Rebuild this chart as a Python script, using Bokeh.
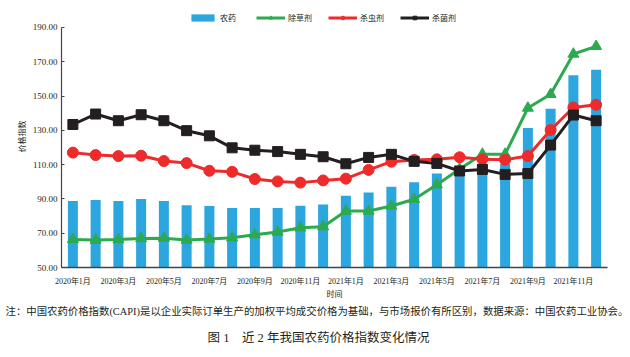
from bokeh.plotting import figure
from bokeh.models import (Range1d, Legend, LegendItem, Title, FixedTicker,
                          NumeralTickFormatter)
from bokeh.embed import file_html
from bokeh.resources import INLINE

months = ["2020年1月", "2020年2月", "2020年3月", "2020年4月", "2020年5月", "2020年6月",
          "2020年7月", "2020年8月", "2020年9月", "2020年10月", "2020年11月", "2020年12月",
          "2021年1月", "2021年2月", "2021年3月", "2021年4月", "2021年5月", "2021年6月",
          "2021年7月", "2021年8月", "2021年9月", "2021年10月", "2021年11月", "2021年12月"]

pesticide = [88.8, 89.4, 88.8, 90.0, 88.8, 86.3, 85.9, 84.7, 84.7, 84.7, 86.0, 86.8,
             91.8, 93.7, 97.1, 99.7, 104.8, 106.4, 110.5, 110.5, 131.3, 142.6, 162.1, 165.3]
herbicide = [66.4, 66.0, 66.3, 66.9, 67.1, 66.0, 66.6, 67.3, 69.1, 70.7, 73.2, 73.8,
             82.9, 82.9, 85.9, 89.8, 98.3, 107.5, 116.1, 116.1, 143.0, 151.0, 174.5, 179.0]
insecticide = [117.0, 115.6, 115.0, 115.2, 112.1, 110.9, 106.4, 105.8, 101.6, 100.2, 99.5, 100.8,
               101.8, 106.9, 111.7, 112.7, 113.1, 114.3, 113.2, 112.8, 115.0, 130.2, 143.3, 144.9]
fungicide = [133.4, 139.5, 135.6, 139.1, 135.6, 129.8, 126.8, 119.8, 118.4, 117.6, 116.0, 114.6,
             110.5, 114.2, 116.0, 111.9, 110.7, 106.3, 107.2, 104.3, 104.8, 121.4, 138.9, 135.6]

series_names = ["农药", "除草剂", "杀虫剂", "杀菌剂"]
y_ticks = [50, 70, 90, 110, 130, 150, 170, 190]
shown_months = ["2020年1月", "2020年3月", "2020年5月", "2020年7月", "2020年9月", "2020年11月",
                "2021年1月", "2021年3月", "2021年5月", "2021年7月", "2021年9月", "2021年11月"]
x_title = "时间"
y_title = "价格指数"
note = "注：中国农药价格指数(CAPI)是以企业实际订单生产的加权平均成交价格为基础，与市场报价有所区别，数据来源：中国农药工业协会。"
caption = "图 1　近 2 年我国农药价格指数变化情况"

FONT = "Liberation Serif, Noto Sans CJK SC"
TXT = "#231F20"
BLUE = "#2CA6DF"
GREEN = "#2DAA4F"
RED = "#EE2B2B"
BLACK = "#231F20"

xpos = list(range(len(months)))
tick_pos = [months.index(m) for m in shown_months]

p = figure(width=630, height=357, x_range=Range1d(-0.5, len(months) - 0.5),
           y_range=Range1d(50, 202.8), output_backend="svg", toolbar_location=None,
           min_border_left=61, min_border_right=23, min_border_top=5, min_border_bottom=90)
p.outline_line_color = None
p.xgrid.grid_line_color = None
p.ygrid.grid_line_color = None

bars = p.vbar(x=xpos, top=pesticide, bottom=0, width=0.44, fill_color=BLUE, line_color=None)

gl = p.line(x=xpos, y=herbicide, line_width=3, line_color=GREEN)
gm = p.scatter(x=xpos, y=herbicide, marker="triangle", size=11, fill_color=GREEN, line_color=GREEN)
rl = p.line(x=xpos, y=insecticide, line_width=3, line_color=RED)
rm = p.scatter(x=xpos, y=insecticide, marker="circle", size=11, fill_color=RED, line_color=RED)
bl = p.line(x=xpos, y=fungicide, line_width=3, line_color=BLACK)
bm = p.scatter(x=xpos, y=fungicide, marker="square", size=10, fill_color=BLACK, line_color=BLACK)

legend = Legend(items=[LegendItem(label=series_names[0], renderers=[bars]),
                       LegendItem(label=series_names[1], renderers=[gl, gm]),
                       LegendItem(label=series_names[2], renderers=[rl, rm]),
                       LegendItem(label=series_names[3], renderers=[bl, bm])],
                orientation="horizontal", location=(127, 244),
                border_line_color=None, background_fill_alpha=0,
                padding=0, margin=0, spacing=16, glyph_width=29, glyph_height=9,
                label_standoff=3, label_text_font_size="8px", label_height=9,
                label_text_font=FONT, label_text_color=TXT)
p.add_layout(legend)

ya = p.yaxis[0]
ya.ticker = y_ticks
ya.bounds = (50, 190)
ya.formatter = NumeralTickFormatter(format="0.00")
ya.major_label_text_font = FONT
ya.major_label_text_font_size = "9px"
ya.major_label_text_color = TXT
ya.axis_line_color = "#444444"
ya.axis_line_width = 1.2
ya.major_tick_line_color = "#444444"
ya.major_tick_in = 3
ya.major_tick_out = 0
ya.minor_tick_line_color = None
ya.major_label_standoff = 4
ya.axis_label = y_title
ya.axis_label_text_font = FONT
ya.axis_label_text_font_size = "8px"
ya.axis_label_text_font_style = "normal"
ya.axis_label_text_color = TXT
ya.axis_label_standoff = 3

xa = p.xaxis[0]
xa.ticker = FixedTicker(ticks=tick_pos)
xa.major_label_overrides = {i: months[i] for i in tick_pos}
xa.major_tick_line_color = None
xa.minor_tick_line_color = None
xa.axis_line_color = "#444444"
xa.axis_line_width = 1.5
xa.major_label_text_font = FONT
xa.major_label_text_font_size = "8px"
xa.major_label_text_color = TXT
xa.major_label_standoff = 3
xa.axis_label = x_title
xa.axis_label_text_font = FONT
xa.axis_label_text_font_size = "8px"
xa.axis_label_text_font_style = "normal"
xa.axis_label_text_color = TXT
xa.axis_label_standoff = 1

p.add_layout(Title(text=note, align="left", offset=-56, text_font=FONT, text_font_size="10.4px",
                   text_font_style="normal", text_color=TXT, standoff=4), "below")
p.add_layout(Title(text=caption, align="left", offset=146, text_font=FONT, text_font_size="12.5px",
                   text_font_style="normal", text_color=TXT, standoff=21), "below")

open("out.html", "w").write(file_html(p, INLINE))
